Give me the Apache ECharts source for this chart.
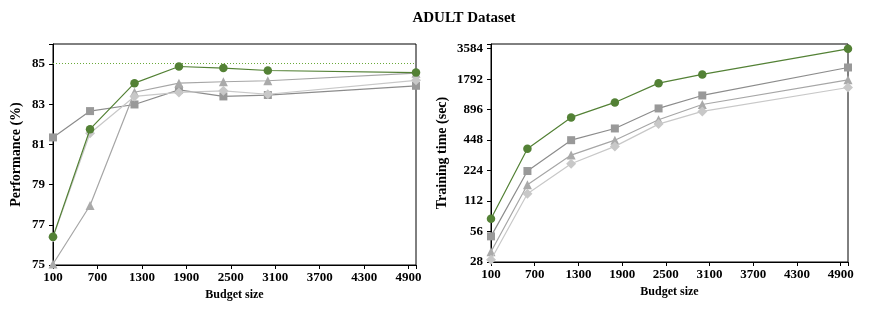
<!DOCTYPE html>
<html><head><meta charset="utf-8">
<script src="https://cdn.jsdelivr.net/npm/echarts@6/dist/echarts.min.js"></script>
<style>html,body{margin:0;padding:0;background:#fff}#c{width:872px;height:315px}</style>
</head><body><div id="c"></div>
<script>
const budgets = [100, 600, 1200, 1800, 2400, 3000, 5000];
const xTicks = [100, 700, 1300, 1900, 2500, 3100, 3700, 4300, 4900];
// Performance (%)
const perfCircle  = [76.4, 81.76, 84.05, 84.88, 84.8, 84.68, 84.58];
const perfSquare  = [81.35, 82.66, 82.99, 83.72, 83.39, 83.46, 83.92];
const perfTri     = [75.05, 77.96, 83.6, 84.05, 84.12, 84.17, 84.55];
const perfDiamond = [76.38, 81.56, 83.39, 83.59, 83.67, 83.5, 84.19];
const perfRef = 85.05;
const perfTicks = [75, 77, 79, 81, 83, 85];
// Training time (sec)
const timeCircle  = [75, 369, 752, 1058, 1641, 2000, 3584];
const timeSquare  = [50.2, 222, 448, 585, 923, 1240, 2344];
const timeTri     = [35.4, 162.5, 319, 448, 713, 1010, 1770];
const timeDiamond = [29.5, 132.5, 262, 389, 646, 862, 1487];
const timeTicks = [28, 56, 112, 224, 448, 896, 1792, 3584];

const GREEN = '#538135';
const REFGREEN = '#6aaa3a';
const font = 'Liberation Serif';
const pairs = a => budgets.map((b, i) => [b, a[i]]);
const labelStyle = {fontFamily: font, fontWeight: 'bold', fontSize: 13, color: '#000'};
const nameStyle = {fontFamily: font, fontWeight: 'bold', fontSize: 14, color: '#000'};

function xAxis(gi) {
  return {
    type: 'value', gridIndex: gi, min: 100, max: 5000, interval: 600,
    name: 'Budget size', nameLocation: 'middle', nameGap: 24,
    nameTextStyle: {fontFamily: font, fontWeight: 'bold', fontSize: 12, color: '#000'},
    axisLine: {lineStyle: {color: '#000', width: 1}},
    axisTick: {length: 4, lineStyle: {color: '#000'}},
    splitLine: {show: false},
    axisLabel: Object.assign({}, labelStyle, {margin: 6,
      formatter: v => xTicks.includes(Math.round(v)) ? String(Math.round(v)) : ''})
  };
}
function nearestTick(v) {
  let best = timeTicks[0];
  for (const t of timeTicks) if (Math.abs(Math.log(t) - Math.log(v)) < Math.abs(Math.log(best) - Math.log(v))) best = t;
  return Math.abs(Math.log(best) - Math.log(v)) < 0.1 ? String(best) : '';
}
function ser(name, data, xi, yi, symbol, size, color, lineColor, z) {
  return {type: 'line', name, data, xAxisIndex: xi, yAxisIndex: yi, symbol, symbolSize: size,
    itemStyle: {color}, lineStyle: {color: lineColor, width: 1.2}, z, animation: false};
}

const option = {
  animation: false,
  title: {text: 'ADULT Dataset', left: 459, top: 6, textAlign: 'center',
    textStyle: {fontFamily: font, fontWeight: 'bold', fontSize: 15, color: '#000'}},
  grid: [
    {left: 53, top: 44, width: 363, height: 221, show: true, borderColor: '#000', borderWidth: 1},
    {left: 491, top: 44, width: 357, height: 218, show: true, borderColor: '#000', borderWidth: 1}
  ],
  xAxis: [xAxis(0), xAxis(1)],
  yAxis: [
    {type: 'value', gridIndex: 0, min: 75, max: 86, interval: 2,
     name: 'Performance (%)', nameLocation: 'middle', nameGap: 30,
     nameTextStyle: nameStyle,
     axisLine: {show: true, lineStyle: {color: '#000'}},
     axisTick: {show: true, length: 4, lineStyle: {color: '#000'}},
     splitLine: {show: false},
     axisLabel: Object.assign({}, labelStyle, {margin: 8,
       formatter: v => perfTicks.includes(Math.round(v)) && Math.abs(v - Math.round(v)) < 0.01 ? String(Math.round(v)) : ''})},
    {type: 'log', logBase: 2, gridIndex: 1, min: 28, max: 4000, interval: 1,
     name: 'Training time (sec)', nameLocation: 'middle', nameGap: 42,
     nameTextStyle: nameStyle,
     axisLine: {show: true, lineStyle: {color: '#000'}},
     axisTick: {show: true, length: 4, lineStyle: {color: '#000'}},
     splitLine: {show: false}, minorTick: {show: false},
     axisLabel: Object.assign({}, labelStyle, {margin: 8, formatter: v => nearestTick(v)})}
  ],
  series: [
    ser('sq', pairs(perfSquare), 0, 0, 'rect', 8, '#999999', '#8c8c8c', 2),
    ser('tri', pairs(perfTri), 0, 0, 'triangle', 9, '#aaaaaa', '#a6a6a6', 3),
    ser('dia', pairs(perfDiamond), 0, 0, 'diamond', 10, '#c8c8c8', '#c8c8c8', 4),
    Object.assign(ser('ci', pairs(perfCircle), 0, 0, 'circle', 8.5, GREEN, GREEN, 5), {
      markLine: {silent: true, symbol: ['none', 'none'], label: {show: false},
        itemStyle: {color: REFGREEN},
        lineStyle: {color: REFGREEN, type: [1, 2], width: 1},
        emphasis: {disabled: true},
        data: [{yAxis: perfRef, lineStyle: {color: REFGREEN, type: [1, 2], width: 1}}]}
    }),
    ser('sq2', pairs(timeSquare), 1, 1, 'rect', 8, '#999999', '#8c8c8c', 2),
    ser('tri2', pairs(timeTri), 1, 1, 'triangle', 9, '#aaaaaa', '#a6a6a6', 3),
    ser('dia2', pairs(timeDiamond), 1, 1, 'diamond', 10, '#c8c8c8', '#c8c8c8', 4),
    ser('ci2', pairs(timeCircle), 1, 1, 'circle', 8.5, GREEN, GREEN, 5)
  ]
};
const chart = echarts.init(document.getElementById('c'), null, {renderer: 'canvas'});
chart.setOption(option);
</script></body></html>
